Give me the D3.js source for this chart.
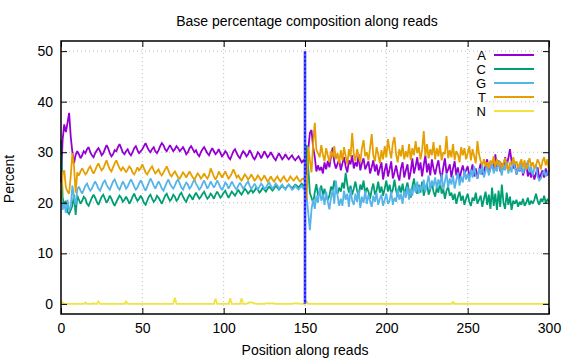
<!DOCTYPE html>
<html>
<head>
<meta charset="utf-8">
<script src="https://cdn.jsdelivr.net/npm/d3@7/dist/d3.min.js"></script>
<style>
  html, body { margin: 0; padding: 0; background: #fff; }
  svg { display: block; }
  text { font-family: "Liberation Sans", Arial, sans-serif; }
</style>
</head>
<body>
<svg id="chart" width="576" height="360"></svg>
<script>
const title = "Base percentage composition along reads";
const xLabel = "Position along reads";
const yLabel = "Percent";
const seriesNames = ["A", "C", "G", "T", "N"];
const seriesColors = ["#9400d3", "#009e73", "#56b4e9", "#e69f00", "#f0e442"];
const xTicks = [0, 50, 100, 150, 200, 250, 300];
const yTicks = [0, 10, 20, 30, 40, 50];
const markerPosition = 150;
const markerRange = [0, 50];

const seriesA = [
  24.0, 32.5, 35.5, 34.0, 35.8, 37.8, 33.0, 30.0, 27.8, 29.5,
  30.2, 29.6, 28.8, 29.4, 30.2, 29.8, 30.6, 31.0, 30.0, 29.4,
  29.0, 29.8, 30.4, 30.8, 30.2, 29.4, 29.8, 30.6, 31.4, 30.8,
  29.8, 29.2, 29.6, 30.4, 30.2, 31.0, 31.6, 30.8, 30.0, 29.6,
  30.2, 30.6, 29.8, 29.4, 30.0, 30.8, 31.2, 30.4, 29.8, 30.2,
  30.6, 31.2, 31.8, 31.0, 30.4, 30.0, 30.6, 31.0, 30.2, 29.8,
  30.4, 31.2, 31.8, 31.4, 30.6, 30.2, 30.8, 31.4, 30.8, 30.2,
  30.6, 31.2, 30.8, 30.2, 30.6, 31.0, 30.4, 29.6, 30.0, 30.8,
  31.2, 30.6, 30.0, 30.4, 29.6, 29.2, 30.0, 30.6, 31.0, 30.4,
  29.8, 29.4, 30.2, 30.8, 30.2, 29.6, 30.0, 30.6, 29.8, 29.2,
  29.6, 30.2, 29.8, 29.0, 28.6, 29.4, 30.2, 30.6, 29.8, 29.2,
  28.8, 29.6, 30.2, 29.8, 29.2, 29.6, 30.4, 29.8, 29.0, 28.6,
  29.2, 30.0, 29.6, 28.8, 29.4, 30.2, 29.6, 29.0, 29.4, 30.0,
  29.4, 28.8, 28.4, 29.2, 29.8, 29.2, 28.6, 29.0, 29.6, 29.0,
  28.6, 29.0, 29.4, 28.8, 28.4, 28.8, 29.2, 28.6, 28.0, 28.4,
  28.0, 25.5, 30.5, 33.8, 34.4, 31.0, 29.1, 26.2, 27.4, 26.4,
  27.1, 25.8, 28.0, 26.6, 28.3, 27.0, 29.2, 30.9, 28.0, 26.8,
  27.7, 28.6, 26.4, 27.8, 29.0, 27.2, 26.0, 28.4, 27.6, 29.4,
  26.8, 28.0, 27.2, 29.6, 26.4, 27.8, 28.8, 26.6, 27.4, 28.2,
  25.8, 27.0, 28.4, 26.2, 27.6, 25.4, 26.8, 28.0, 24.6, 26.4,
  27.8, 25.2, 26.6, 28.2, 24.8, 26.0, 27.4, 25.6, 24.4, 26.8,
  28.0, 25.0, 26.4, 27.6, 24.6, 26.2, 28.8, 25.8, 27.2, 29.0,
  26.4, 28.0, 25.2, 27.4, 29.4, 26.0, 27.8, 25.4, 28.6, 26.8,
  25.6, 27.2, 28.4, 26.0, 24.8, 27.0, 28.8, 25.8, 26.6, 27.6,
  25.0, 26.8, 28.2, 25.4, 27.0, 24.6, 26.2, 27.4, 25.8, 26.4,
  27.2, 25.4, 26.0, 27.6, 25.2, 26.8, 24.8, 26.4, 27.8, 25.6,
  26.2, 27.4, 28.6, 25.8, 26.8, 28.0, 26.4, 29.6, 27.0, 28.4,
  26.2, 27.8, 26.6, 29.0, 27.4, 28.8, 30.6, 28.2, 26.8, 27.6,
  25.6, 27.0, 26.2, 28.0, 25.4, 26.6, 27.8, 25.2, 26.4, 25.0,
  26.2, 24.6, 25.8, 27.0, 24.8, 25.6, 26.4, 25.0, 26.8, 25.4,
  26.6
];

const seriesC = [
  32.4, 21.0, 19.6, 20.4, 18.2, 17.8, 18.6, 19.4, 21.6, 17.6,
  21.4, 20.6, 19.8, 20.4, 21.2, 20.8, 19.8, 19.4, 20.2, 21.0,
  21.6, 21.0, 20.2, 19.6, 20.4, 21.2, 21.6, 20.8, 20.0, 20.6,
  21.4, 20.8, 20.0, 19.4, 20.2, 20.8, 21.4, 21.0, 20.2, 20.6,
  21.2, 20.6, 19.8, 20.4, 21.2, 21.8, 21.0, 20.4, 20.8, 21.4,
  20.8, 20.0, 19.6, 20.4, 21.2, 21.6, 20.8, 20.2, 20.6, 21.4,
  21.0, 20.4, 19.8, 20.6, 21.4, 21.8, 21.0, 20.4, 20.8, 21.6,
  21.2, 20.4, 20.8, 21.6, 22.0, 21.2, 20.6, 20.2, 21.0, 21.6,
  21.2, 20.6, 21.4, 22.0, 21.4, 20.8, 21.2, 21.8, 22.2, 21.4,
  20.8, 21.2, 21.8, 21.4, 20.8, 21.6, 22.2, 21.6, 21.0, 21.4,
  22.0, 22.4, 21.6, 21.0, 21.6, 22.2, 21.8, 21.4, 22.0, 22.6,
  22.0, 21.6, 22.2, 22.8, 22.4, 21.8, 22.2, 22.6, 22.0, 22.4,
  23.0, 22.6, 22.0, 22.4, 23.0, 22.6, 22.2, 22.8, 23.2, 22.8,
  22.4, 22.8, 23.4, 23.0, 22.6, 23.0, 23.4, 23.0, 22.8, 23.2,
  23.6, 23.2, 22.8, 23.2, 23.6, 23.4, 23.0, 23.4, 23.8, 23.4,
  23.4, 31.4, 27.0, 21.9, 21.0, 20.0, 22.0, 23.7, 21.4, 22.2,
  23.4, 21.6, 22.8, 21.0, 20.6, 21.4, 23.2, 22.4, 24.4, 22.6,
  21.8, 23.0, 22.2, 24.0, 22.8, 25.9, 23.6, 22.0, 23.4, 21.6,
  22.8, 24.2, 22.4, 21.2, 23.6, 22.6, 24.4, 21.8, 23.0, 22.2,
  20.8, 22.6, 23.8, 21.6, 22.4, 24.2, 22.0, 23.2, 21.4, 22.8,
  24.4, 22.2, 23.6, 21.8, 22.6, 24.6, 22.4, 21.2, 23.4, 22.0,
  23.8, 21.6, 22.8, 24.0, 22.2, 21.0, 23.2, 24.8, 22.4, 21.8,
  23.6, 22.0, 24.2, 21.4, 22.8, 23.8, 21.6, 22.6, 24.0, 22.2,
  21.2, 23.0, 22.0, 24.2, 21.8, 22.8, 20.8, 22.4, 23.2, 21.4,
  22.0, 20.6, 21.8, 19.8, 21.2, 22.2, 20.4, 21.4, 19.6, 20.8,
  21.8, 20.2, 19.4, 21.0, 20.4, 22.0, 19.8, 20.6, 21.4, 19.2,
  20.8, 22.2, 19.6, 21.6, 18.8, 23.0, 19.4, 21.8, 18.6, 22.4,
  19.2, 23.6, 20.0, 18.8, 22.0, 19.6, 21.2, 18.6, 20.4, 19.8,
  20.6, 19.2, 20.2, 19.6, 20.8, 19.4, 20.0, 21.0, 19.6, 20.4,
  19.8, 20.6, 21.8, 20.4, 19.6, 20.8, 20.2, 21.4, 20.0, 20.6,
  20.2
];

const seriesG = [
  22.4, 18.6, 19.8, 18.0, 20.6, 18.4, 19.2, 23.4, 21.0, 19.6,
  22.6, 23.2, 22.4, 21.8, 22.6, 23.4, 23.8, 23.0, 22.4, 22.8,
  23.6, 24.2, 23.6, 22.8, 22.4, 23.2, 24.0, 24.4, 23.6, 23.0,
  22.6, 23.4, 24.2, 24.6, 23.8, 23.0, 22.6, 23.4, 24.2, 23.6,
  22.8, 23.2, 24.0, 24.6, 24.0, 23.2, 22.6, 23.0, 23.8, 24.4,
  23.8, 23.0, 22.4, 23.2, 24.0, 24.8, 24.2, 23.4, 22.8, 23.6,
  24.2, 23.6, 22.8, 22.4, 23.2, 24.0, 24.6, 23.8, 23.2, 22.8,
  23.4, 24.2, 24.6, 23.8, 23.0, 22.6, 23.4, 24.0, 23.6, 22.8,
  23.2, 24.0, 24.6, 23.8, 23.2, 22.6, 23.0, 23.8, 24.4, 23.6,
  22.8, 23.4, 24.2, 23.6, 23.0, 23.6, 24.4, 23.8, 23.0, 22.6,
  23.2, 24.0, 23.6, 22.8, 23.4, 24.2, 23.6, 23.0, 22.6, 23.4,
  24.0, 23.4, 22.8, 23.2, 23.8, 24.2, 23.4, 22.8, 23.2, 23.8,
  23.2, 22.6, 23.2, 23.8, 23.4, 22.8, 23.0, 23.6, 24.0, 23.4,
  22.8, 23.2, 23.8, 23.4, 22.8, 23.2, 23.6, 23.0, 22.6, 23.2,
  23.6, 23.2, 22.6, 22.8, 23.4, 23.0, 22.6, 23.0, 23.4, 22.8,
  23.0, 21.2, 18.0, 14.6, 18.7, 20.6, 18.8, 21.4, 20.0, 23.0,
  20.4, 21.6, 19.6, 22.2, 20.2, 18.7, 21.0, 22.6, 19.8, 24.4,
  21.4, 19.4, 20.8, 19.4, 22.4, 20.6, 21.8, 19.2, 22.8, 20.4,
  19.6, 21.8, 20.2, 22.6, 19.0, 21.2, 20.0, 22.4, 19.8, 21.6,
  20.4, 19.2, 21.4, 20.2, 22.0, 19.6, 20.8, 21.6, 19.4, 20.6,
  21.8, 19.8, 20.4, 22.2, 19.6, 21.0, 20.2, 22.8, 20.6, 21.8,
  19.8, 22.4, 21.0, 23.2, 20.6, 22.8, 21.4, 23.6, 22.0, 24.2,
  21.8, 23.4, 22.4, 24.6, 22.2, 23.8, 25.4, 22.6, 24.4, 23.2,
  25.0, 22.8, 24.6, 23.4, 25.6, 22.6, 24.2, 25.8, 23.0, 24.8,
  23.6, 25.4, 22.8, 24.4, 26.0, 23.4, 25.2, 24.0, 26.4, 24.6,
  25.8, 24.2, 26.6, 25.0, 27.2, 25.4, 24.8, 26.8, 25.6, 27.4,
  25.0, 26.2, 27.6, 25.4, 26.8, 28.0, 25.8, 27.0, 26.2, 28.4,
  26.6, 25.4, 27.8, 26.4, 28.2, 25.8, 27.2, 26.0, 28.6, 27.0,
  25.6, 27.4, 26.2, 28.0, 25.8, 27.0, 26.6, 28.4, 26.0, 27.2,
  25.4, 26.8, 27.6, 25.2, 24.4, 24.8, 25.6, 26.4, 25.2, 26.0,
  26.4
];

const seriesT = [
  20.0, 25.8, 26.4, 23.0, 22.2, 21.8, 25.4, 29.8, 27.2, 22.0,
  26.0, 25.4, 26.2, 26.8, 26.2, 25.6, 26.0, 26.8, 27.2, 26.4,
  25.8, 26.4, 27.2, 27.8, 27.0, 26.4, 26.8, 27.6, 28.4, 27.4,
  26.6, 26.2, 27.0, 27.8, 28.4, 27.6, 26.8, 26.4, 27.0, 26.6,
  26.0, 26.6, 27.2, 26.8, 26.0, 25.6, 26.2, 27.0, 26.4, 26.8,
  27.6, 26.8, 26.0, 25.6, 26.2, 26.8, 27.2, 26.4, 25.8, 26.2,
  26.6, 25.8, 25.4, 26.0, 26.6, 27.2, 26.4, 25.6, 25.2, 25.8,
  26.2, 25.6, 25.0, 24.8, 25.4, 26.0, 25.6, 25.0, 25.6, 26.2,
  25.6, 25.0, 24.6, 25.2, 25.8, 25.4, 24.8, 25.2, 25.8, 25.2,
  24.8, 25.4, 26.8, 26.0, 25.2, 24.6, 25.2, 26.2, 25.6, 25.0,
  25.6, 26.2, 25.4, 24.8, 25.2, 25.8, 26.6, 25.8, 25.0, 25.4,
  24.8, 24.4, 25.0, 25.6, 25.2, 24.6, 25.0, 25.6, 25.0, 24.4,
  24.8, 25.4, 25.0, 24.4, 24.8, 25.4, 24.8, 24.2, 24.6, 25.2,
  24.6, 24.2, 24.8, 25.2, 24.6, 24.2, 24.8, 25.2, 24.6, 24.2,
  24.6, 25.2, 24.8, 24.4, 24.8, 25.2, 24.6, 24.2, 24.6, 24.8,
  24.4, 20.6, 31.1, 28.4, 26.0, 31.6, 35.8, 30.5, 29.8, 29.0,
  31.4, 29.6, 28.2, 30.8, 29.4, 28.0, 30.2, 29.0, 31.2, 28.6,
  29.8, 27.8, 30.4, 28.4, 31.0, 29.2, 27.6, 30.6, 29.0, 33.8,
  29.6, 28.2, 30.6, 29.4, 28.0, 30.8, 32.4, 29.2, 30.0, 28.4,
  30.8, 33.6, 29.4, 28.2, 31.0, 29.6, 27.8, 30.4, 28.6, 31.2,
  29.0, 32.6, 30.4, 28.8, 31.8, 33.0, 29.6, 28.0, 30.6, 29.2,
  31.4, 28.6, 30.2, 29.0, 31.6, 28.4, 30.8, 29.4, 32.2, 29.8,
  31.0, 28.6, 30.4, 34.2, 29.2, 31.6, 28.8, 30.6, 29.4, 32.0,
  28.6, 30.8, 29.2, 31.4, 28.4, 30.0, 29.6, 33.2, 28.8, 30.4,
  29.0, 31.6, 28.4, 30.2, 29.6, 28.0, 31.0, 29.4, 30.8, 28.6,
  29.8, 31.2, 28.4, 30.6, 29.2, 27.8, 32.2, 29.6, 28.2, 27.4,
  28.6, 27.2, 28.0, 26.8, 28.4, 27.6, 29.2, 27.0, 28.6, 27.4,
  28.2, 26.8, 27.8, 28.8, 27.2, 26.4, 28.0, 27.4, 29.0, 27.6,
  28.2, 26.8, 27.8, 28.6, 27.0, 28.4, 26.6, 27.6, 28.8, 27.2,
  28.0, 26.8, 27.4, 28.6, 27.8, 26.6, 28.2, 29.0, 27.4, 28.6,
  26.3
];

const seriesN = [
  0.6, 0.2, 0, 0, 0, 0, 0, 0, 0, 0,
  0, 0, 0, 0, 0, 0.3, 0, 0, 0, 0,
  0.15, 0, 0, 0.5, 0, 0, 0, 0, 0, 0,
  0, 0, 0, 0, 0, 0, 0, 0, 0, 0,
  0.5, 0, 0, 0, 0, 0, 0, 0, 0, 0,
  0, 0, 0, 0, 0, 0, 0, 0, 0, 0,
  0, 0, 0, 0, 0, 0, 0, 0, 0, 0,
  1.2, 0, 0, 0, 0, 0, 0, 0, 0, 0,
  0, 0, 0, 0, 0, 0, 0, 0, 0, 0,
  0, 0, 0, 0, 0, 1.0, 0, 0, 0, 0,
  0, 0, 0, 0, 1.1, 0, 0, 0, 0, 0,
  0, 1.1, 0, 0, 0, 0.2, 0.3, 0.3, 0.2, 0.1,
  0, 0, 0, 0, 0, 0, 0.1, 0.1, 0.1, 0.1,
  0.1, 0.1, 0, 0, 0, 0, 0, 0, 0, 0,
  0, 0, 0, 0.1, 0.1, 0.1, 0.1, 0, 0, 0,
  0, 0.5, 0, 0, 0, 0, 0, 0, 0, 0,
  0, 0, 0, 0, 0, 0, 0, 0, 0, 0,
  0, 0, 0, 0, 0, 0, 0, 0, 0, 0,
  0, 0, 0, 0, 0, 0, 0, 0, 0, 0,
  0, 0, 0, 0, 0, 0, 0, 0, 0, 0,
  0, 0, 0, 0, 0, 0, 0, 0, 0, 0,
  0, 0, 0, 0, 0, 0, 0, 0, 0, 0,
  0, 0, 0, 0, 0, 0, 0, 0, 0, 0,
  0, 0, 0, 0, 0, 0, 0, 0, 0, 0,
  0, 0.4, 0, 0, 0, 0, 0, 0, 0, 0,
  0, 0, 0, 0, 0, 0, 0, 0, 0, 0,
  0, 0, 0, 0, 0, 0, 0, 0, 0, 0,
  0, 0, 0, 0, 0, 0, 0, 0, 0, 0,
  0, 0, 0, 0, 0, 0, 0, 0, 0, 0,
  0, 0, 0, 0, 0, 0, 0, 0, 0, 0,
  0
];

const seriesValues = [seriesA, seriesC, seriesG, seriesT, seriesN];

const svg = d3.select("#chart");
const W = 576, H = 360;
const plot = { left: 61, right: 549, top: 41, bottom: 314 };
const FONT = 14;
const LEGEND_FONT = 13;

svg.append("rect").attr("width", W).attr("height", H).attr("fill", "#fff");

const x = d3.scaleLinear().domain([0, 300]).range([plot.left, plot.right]);
const y = d3.scaleLinear().domain([-2, 52]).range([plot.bottom, plot.top]);

// grid
const grid = svg.append("g").attr("class", "grid");
grid.selectAll("line.gx").data(xTicks.filter(t => t > 0 && t < 300)).join("line")
  .attr("x1", d => x(d)).attr("x2", d => x(d))
  .attr("y1", plot.top).attr("y2", plot.bottom)
  .attr("stroke", "#bdbdbd").attr("stroke-width", 1).attr("stroke-dasharray", "1,3");
grid.selectAll("line.gy").data(yTicks).join("line")
  .attr("x1", plot.left).attr("x2", plot.right)
  .attr("y1", d => y(d)).attr("y2", d => y(d))
  .attr("stroke", "#bdbdbd").attr("stroke-width", 1).attr("stroke-dasharray", "1,3");

// series lines
const line = d3.line().x((d, i) => x(i)).y(d => y(d));
const linesG = svg.append("g").attr("class", "series");
seriesValues.forEach((vals, k) => {
  linesG.append("path")
    .datum(vals)
    .attr("d", line)
    .attr("fill", "none")
    .attr("stroke", seriesColors[k])
    .attr("stroke-width", 1.8)
    .attr("stroke-linejoin", "miter")
    .attr("stroke-miterlimit", 2);
});

// marker line at read boundary
svg.append("line")
  .attr("x1", x(markerPosition)).attr("x2", x(markerPosition))
  .attr("y1", y(markerRange[0])).attr("y2", y(markerRange[1]))
  .attr("stroke", "#1a1aff").attr("stroke-width", 2.5);
svg.append("line")
  .attr("x1", x(markerPosition)).attr("x2", x(markerPosition))
  .attr("y1", y(markerRange[0])).attr("y2", y(markerRange[1]))
  .attr("stroke", "#8fa0ff").attr("stroke-width", 1).attr("stroke-dasharray", "2,2");

// axes with inward ticks
const axisFont = g => g.selectAll("text")
  .attr("font-size", FONT).attr("font-family", '"Liberation Sans", Arial, sans-serif').attr("fill", "#000");

const xAxis = svg.append("g").attr("transform", `translate(0,${plot.bottom})`)
  .call(d3.axisBottom(x).tickValues(xTicks).tickFormat(d3.format("d")).tickSizeInner(-6).tickSizeOuter(0).tickPadding(9))
  .call(axisFont);
xAxis.select(".domain").remove();
xAxis.selectAll(".tick line").attr("stroke", "#000");

const xAxisTop = svg.append("g").attr("transform", `translate(0,${plot.top})`)
  .call(d3.axisTop(x).tickValues(xTicks).tickFormat("").tickSizeInner(-6).tickSizeOuter(0));
xAxisTop.select(".domain").remove();
xAxisTop.selectAll(".tick line").attr("stroke", "#000");

const yAxis = svg.append("g").attr("transform", `translate(${plot.left},0)`)
  .call(d3.axisLeft(y).tickValues(yTicks).tickFormat(d3.format("d")).tickSizeInner(-6).tickSizeOuter(0).tickPadding(8))
  .call(axisFont);
yAxis.select(".domain").remove();
yAxis.selectAll(".tick line").attr("stroke", "#000");

const yAxisRight = svg.append("g").attr("transform", `translate(${plot.right},0)`)
  .call(d3.axisRight(y).tickValues(yTicks).tickFormat("").tickSizeInner(-6).tickSizeOuter(0));
yAxisRight.select(".domain").remove();
yAxisRight.selectAll(".tick line").attr("stroke", "#000");

// border
svg.append("rect")
  .attr("x", plot.left).attr("y", plot.top)
  .attr("width", plot.right - plot.left).attr("height", plot.bottom - plot.top)
  .attr("fill", "none").attr("stroke", "#000").attr("stroke-width", 1.5);

// legend
const legend = svg.append("g").attr("class", "legend");
seriesNames.forEach((name, k) => {
  const ly = 55 + k * 14;
  legend.append("text")
    .attr("x", 486).attr("y", ly + 4.7)
    .attr("text-anchor", "end")
    .attr("font-size", LEGEND_FONT)
    .text(name);
  legend.append("line")
    .attr("x1", 494).attr("x2", 534).attr("y1", ly).attr("y2", ly)
    .attr("stroke", seriesColors[k]).attr("stroke-width", 1.8);
});

// title and labels
svg.append("text").attr("x", 307).attr("y", 26).attr("text-anchor", "middle")
  .attr("font-size", FONT).text(title);
svg.append("text").attr("x", 305).attr("y", 355).attr("text-anchor", "middle")
  .attr("font-size", FONT).text(xLabel);
svg.append("text").attr("transform", "translate(14,179) rotate(-90)").attr("text-anchor", "middle")
  .attr("font-size", FONT).text(yLabel);
</script>
</body>
</html>
